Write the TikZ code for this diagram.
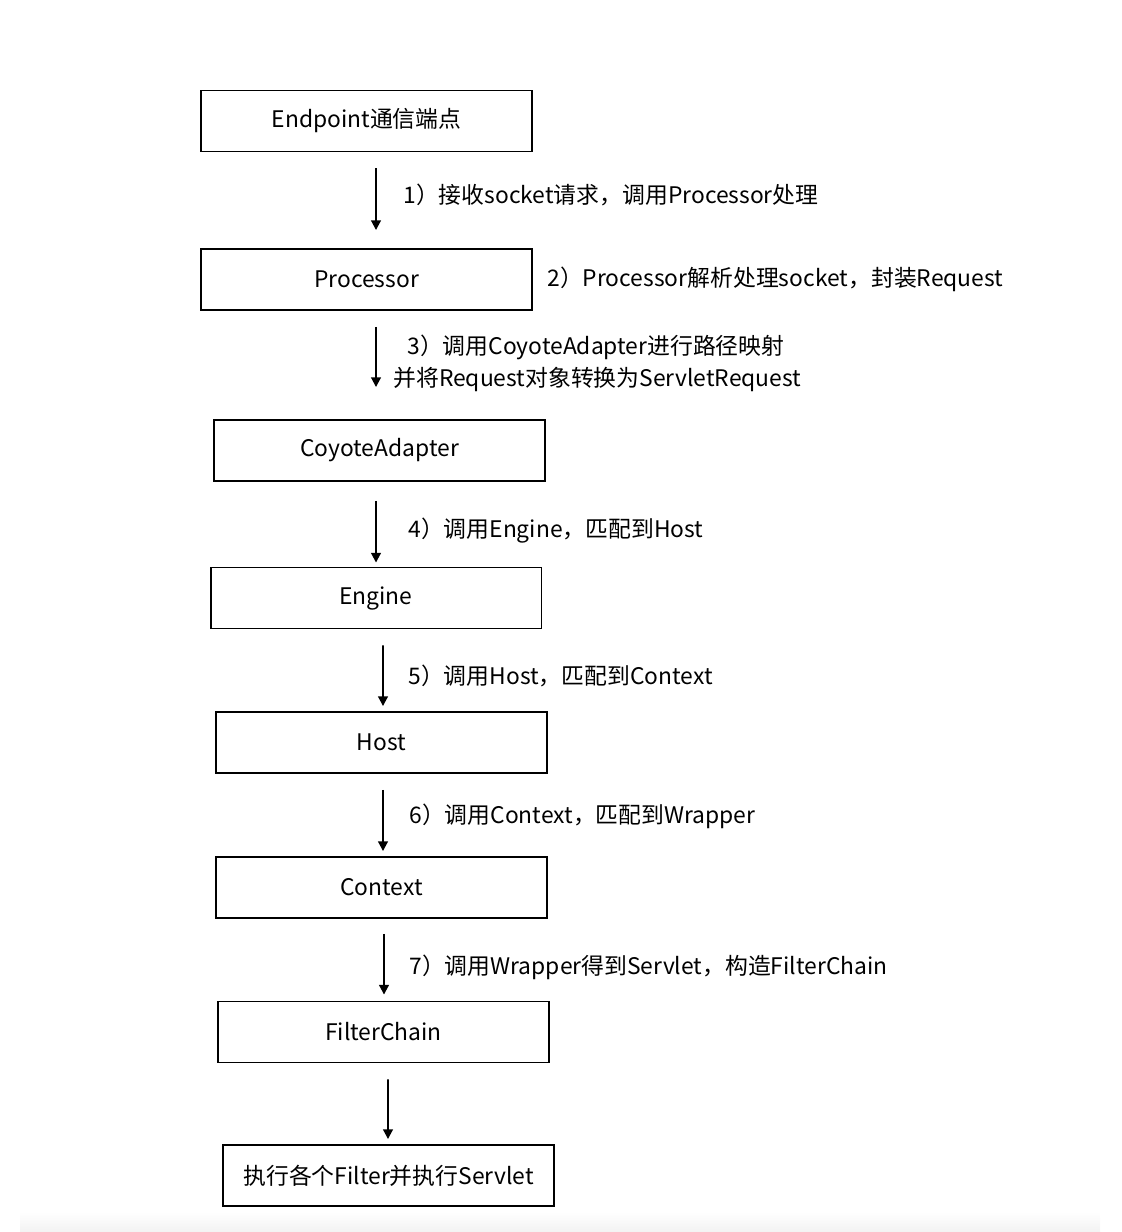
\documentclass[tikz,border=0pt]{standalone}
\usepackage{fontspec}
\setmainfont{Noto Sans CJK SC}
\usetikzlibrary{arrows.meta}
\usetikzlibrary{positioning}

\begin{document}
\begin{tikzpicture}[x=0.02cm, y=-0.02cm, >={Triangle[length=5.5pt,width=5.5pt]},
    stage/.style={draw, line width=1.1pt, minimum width=6.62cm, minimum height=1.22cm,
        inner sep=0pt, font=\fontsize{13}{15}\selectfont},
    flow/.style={->, line width=1.1pt},
    note/.style={anchor=west, inner sep=0pt, font=\fontsize{13}{15}\selectfont}]

\useasboundingbox (0,0) rectangle (1122,1232);
\shade[top color=white, bottom color=black!5] (20,1212) rectangle (1100,1232);

% stages of the request
\node[stage] (endpoint) at (366.5,121) {Endpoint通信端点};
\node[stage] (proc) at (366.5,279.5) {Processor};
\node[stage] (coyote) at (379.5,450.5) {CoyoteAdapter};
\node[stage] (engine) at (376,598) {Engine};
\node[stage] (host) at (381.5,742.5) {Host};
\node[stage] (context) at (381.5,887.5) {Context};
\node[stage] (chain) at (383.5,1032) {FilterChain};
\node[stage] (exec) at (388.5,1175.5) {执行各个Filter并执行Servlet};

% arrows, they keep a gap to the boxes
\draw[flow] ([shift={(9.5,16)}]endpoint.south) -- ([shift={(9.5,-18)}]proc.north);
\draw[flow] ([shift={(9.5,16)}]proc.south) -- ([shift={(9.5,-32)}]proc.south |- coyote.north);
\draw[flow] ([shift={(-3.5,19)}]coyote.south) -- ([shift={(-3.5,-4)}]coyote.south |- engine.north);
\draw[flow] ([shift={(7,16)}]engine.south) -- ([shift={(1.5,-5)}]host.north);
\draw[flow] ([shift={(1.5,16)}]host.south) -- ([shift={(1.5,-5)}]context.north);
\draw[flow] ([shift={(2.5,15)}]context.south) -- ([shift={(0.5,-6)}]chain.north);
\draw[flow] ([shift={(4.5,16)}]chain.south) -- ([shift={(-0.5,-5)}]exec.north);

% step texts
\node[note] (n1) at (403,195) {1）接收socket请求，调用Processor处理};
\node[note] (n2) at (547,279) {2）Processor解析处理socket，封装Request};
\node[note] (n3a) at (407,347) {3）调用CoyoteAdapter进行路径映射};
\node[note] (n3b) at (393,379) {并将Request对象转换为ServletRequest};
\node[note] (n4) at (408,531) {4）调用Engine，匹配到Host};
\node[note] (n5) at (408,676) {5）调用Host，匹配到Context};
\node[note] (n6) at (409,816) {6）调用Context，匹配到Wrapper};
\node[note] (n7) at (409,967) {7）调用Wrapper得到Servlet，构造FilterChain};

\end{tikzpicture}
\end{document}
